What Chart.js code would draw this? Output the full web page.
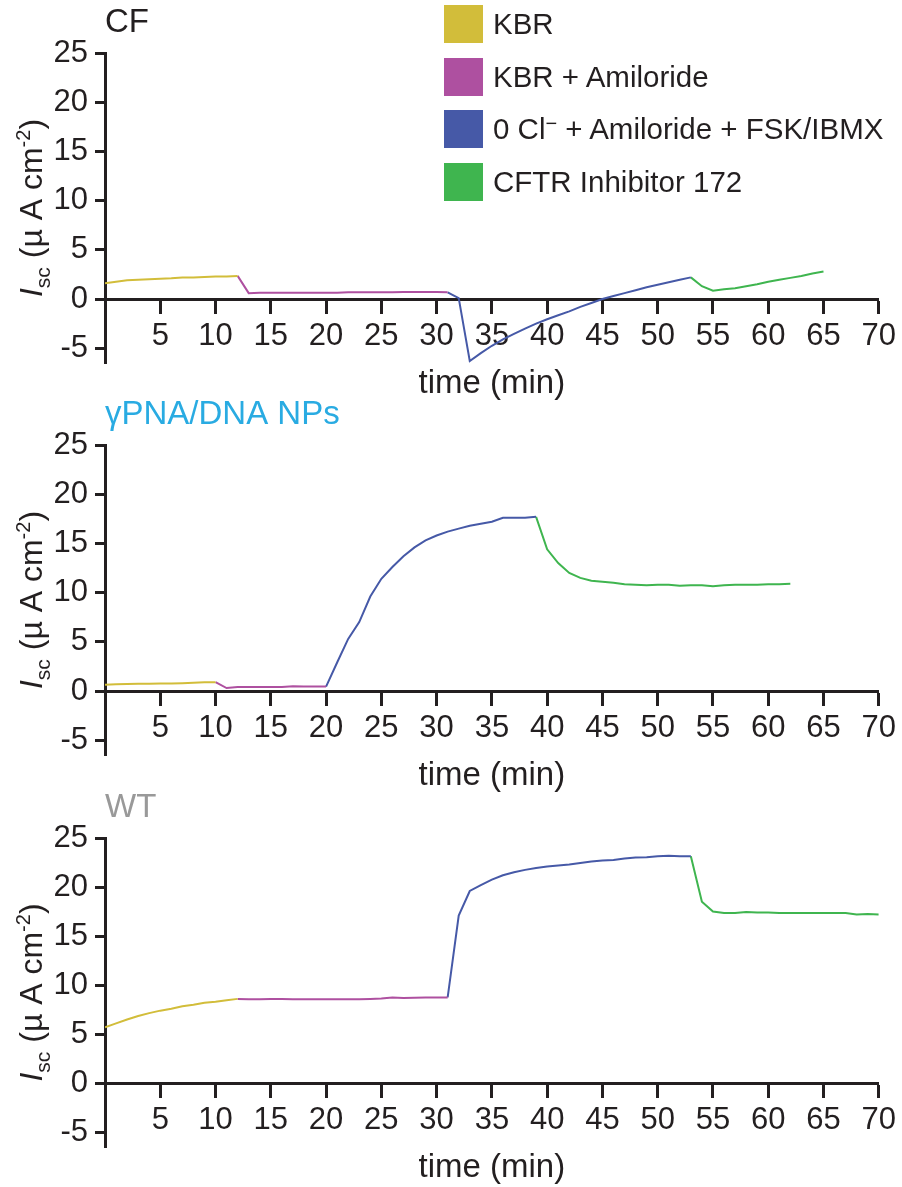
<!DOCTYPE html>
<html>
<head>
<meta charset="utf-8">
<script src="https://cdn.jsdelivr.net/npm/chart.js@4.4.1/dist/chart.umd.min.js"></script>
<style>
  body { margin: 0; background: #fff; }
  #wrap { position: relative; width: 902px; height: 1187px; overflow: hidden; font-family: "Liberation Sans", Arial, sans-serif; }
  canvas { position: absolute; left: 0; }
  .row { position: absolute; left: 444px; height: 38px; display: flex; align-items: center; white-space: nowrap; font-size: 29.5px; color: #231f20; }
  .row sup { font-size: 20px; line-height: 0; vertical-align: 9px; }
  .box { width: 39px; height: 38px; margin-right: 10px; }
</style>
</head>
<body>
<div id="wrap">
  <canvas id="cf" width="902" height="410" style="top:0"></canvas>
  <canvas id="np" width="902" height="410" style="top:392px"></canvas>
  <canvas id="wt" width="902" height="402" style="top:785px"></canvas>
  <div id="legend"></div>
</div>
<script>
const ink = '#231f20';
const family = '"Liberation Sans", Arial, sans-serif';

const phaseNames = ['KBR', 'KBR + Amiloride', '0 Cl\u207B + Amiloride + FSK/IBMX', 'CFTR Inhibitor 172'];
const phaseColors = ['#d2bd3a', '#ae50a0', '#4659a7', '#3fb54f'];

const xTicks = [5, 10, 15, 20, 25, 30, 35, 40, 45, 50, 55, 60, 65, 70];
const yTicks = [-5, 0, 5, 10, 15, 20, 25];

// CF  (one value per minute, each phase starts where the last one ended)
const cfStarts = [0, 12, 31, 53];
const cfKbr = [1.6, 1.75, 1.9, 1.95, 2.0, 2.05, 2.1, 2.2, 2.2, 2.25, 2.3, 2.3, 2.35];
const cfAmil = [2.35, 0.6, 0.65, 0.65, 0.65, 0.65, 0.65, 0.65, 0.65, 0.65, 0.68, 0.68, 0.68, 0.7, 0.7, 0.72, 0.72, 0.72, 0.72, 0.68];
const cfFsk = [0.68, 0.1, -6.3, -5.5, -4.75, -4.1, -3.55, -3.0, -2.5, -2.05, -1.65, -1.25, -0.8, -0.4, 0, 0.3, 0.6, 0.9, 1.2, 1.45, 1.7, 1.95, 2.2];
const cfInh = [2.2, 1.3, 0.85, 1.0, 1.1, 1.3, 1.5, 1.75, 1.95, 2.15, 2.35, 2.6, 2.8];

// gammaPNA/DNA NPs
const npStarts = [0, 10, 20, 39];
const npKbr = [0.65, 0.68, 0.72, 0.74, 0.75, 0.76, 0.77, 0.8, 0.85, 0.88, 0.9];
const npAmil = [0.9, 0.3, 0.4, 0.4, 0.42, 0.42, 0.42, 0.48, 0.45, 0.45, 0.45];
const npFsk = [0.45, 2.9, 5.3, 7.0, 9.6, 11.4, 12.6, 13.7, 14.6, 15.3, 15.8, 16.2, 16.5, 16.8, 17.0, 17.2, 17.6, 17.6, 17.6, 17.7];
const npInh = [17.7, 14.4, 13.0, 12.0, 11.5, 11.2, 11.1, 11.0, 10.85, 10.8, 10.75, 10.8, 10.8, 10.7, 10.75, 10.75, 10.65, 10.75, 10.8, 10.8, 10.8, 10.85, 10.85, 10.9];

// WT
const wtStarts = [0, 12, 31, 53];
const wtKbr = [5.7, 6.1, 6.5, 6.85, 7.15, 7.4, 7.6, 7.85, 8.0, 8.2, 8.3, 8.45, 8.6];
const wtAmil = [8.6, 8.55, 8.55, 8.6, 8.58, 8.55, 8.55, 8.55, 8.55, 8.55, 8.55, 8.55, 8.6, 8.65, 8.75, 8.7, 8.72, 8.75, 8.75, 8.75];
const wtFsk = [8.75, 17.1, 19.6, 20.2, 20.75, 21.2, 21.5, 21.75, 21.95, 22.1, 22.2, 22.3, 22.45, 22.6, 22.7, 22.75, 22.9, 23.0, 23.05, 23.15, 23.2, 23.15, 23.15];
const wtInh = [23.15, 18.5, 17.5, 17.35, 17.35, 17.45, 17.4, 17.4, 17.35, 17.35, 17.35, 17.35, 17.35, 17.35, 17.35, 17.2, 17.25, 17.2];

// legend (only once, top right)
const legend = document.getElementById('legend');
legend.innerHTML = phaseNames.map((name, i) => `
  <div class="row" style="top:${5 + i * 52.5}px">
    <div class="box" style="background:${phaseColors[i]}"></div>
    <span>${name.replace('\u207B', '<sup>\u2212</sup>')}</span>
  </div>`).join('');

// y axis title: I (italic) + subscript sc, superscript -2
const iscTitle = {
  id: 'iscTitle',
  afterDraw(chart) {
    const { ctx, chartArea } = chart;
    const parts = [
      { t: 'I', f: `italic 32px ${family}`, dy: 0 },
      { t: 'sc', f: `21px ${family}`, dy: 8 },
      { t: ' (\u00b5 A cm', f: `32px ${family}`, dy: 0 },
      { t: '-2', f: `20px ${family}`, dy: -12 },
      { t: ')', f: `32px ${family}`, dy: 0 },
    ];
    ctx.save();
    let w = 0;
    parts.forEach(p => { ctx.font = p.f; p.w = ctx.measureText(p.t).width; w += p.w; });
    ctx.translate(42, (chartArea.top + chartArea.bottom) / 2);
    ctx.rotate(-Math.PI / 2);
    ctx.fillStyle = ink;
    ctx.textBaseline = 'alphabetic';
    let x = -w / 2;
    parts.forEach(p => { ctx.font = p.f; ctx.fillText(p.t, x, p.dy); x += p.w; });
    ctx.restore();
  }
};

function makePanel(id, title, titleColor, starts, phases, bottomPad) {
  const datasets = phases.map((vals, k) => ({
    label: phaseNames[k],
    data: vals.map((v, i) => ({ x: starts[k] + i, y: v })),
    borderColor: phaseColors[k],
    borderWidth: 2,
    pointRadius: 0,
    tension: 0,
  }));

  new Chart(document.getElementById(id), {
    type: 'line',
    data: { datasets },
    options: {
      responsive: false,
      animation: false,
      layout: { padding: { top: 0, right: 23, bottom: bottomPad, left: 0 } },
      plugins: {
        legend: { display: false },
        tooltip: { enabled: false },
        title: {
          display: true, text: title, color: titleColor,
          align: 'start', fullSize: false,
          font: { size: 33, family, weight: 'normal' },
          padding: { top: 3, bottom: 10.4 }
        }
      },
      scales: {
        x: {
          type: 'linear', min: 0, max: 70,
          position: { y: 0 },
          afterBuildTicks: s => { s.ticks = xTicks.map(v => ({ value: v })); },
          ticks: { color: ink, font: { size: 31, family }, padding: 6, maxRotation: 0, autoSkip: false },
          grid: { drawOnChartArea: false, tickLength: 13, tickWidth: 3, tickColor: ink },
          border: { color: ink, width: 3 },
          title: { display: true, text: 'time (min)', color: ink, font: { size: 33, family }, padding: { top: 3, bottom: 0 } }
        },
        y: {
          min: -6.5, max: 25,
          afterBuildTicks: s => { s.ticks = yTicks.map(v => ({ value: v })); },
          afterFit: s => { s.width = 105; },
          ticks: { color: ink, font: { size: 31, family }, padding: 7 },
          grid: { drawOnChartArea: false, tickLength: 10, tickWidth: 3, tickColor: ink },
          border: { color: ink, width: 3 }
        }
      }
    },
    plugins: [iscTitle]
  });
}

makePanel('cf', 'CF', ink, cfStarts, [cfKbr, cfAmil, cfFsk, cfInh], 47);
makePanel('np', '\u03b3PNA/DNA NPs', '#29abe2', npStarts, [npKbr, npAmil, npFsk, npInh], 47);
makePanel('wt', 'WT', '#999999', wtStarts, [wtKbr, wtAmil, wtFsk, wtInh], 40);
</script>
</body>
</html>
